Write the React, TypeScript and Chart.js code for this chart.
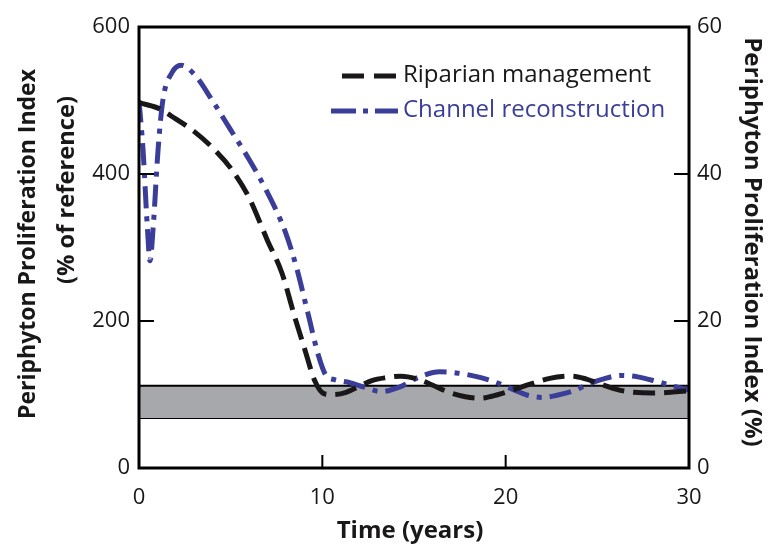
import React, { useEffect, useRef } from 'react';
import { Chart, registerables } from 'chart.js';

Chart.register(...registerables);

// ---- data ----
const riparianTime = [0, 1, 2, 3, 4, 5, 6, 7, 7.8, 8.5, 9, 9.6, 10.1, 10.6, 11.3, 12, 12.7, 13.5, 14.3, 15.2, 16, 16.8, 17.8, 18.6, 19.6, 20.4, 21.2, 22.4, 23.6, 24.4, 25.2, 26.2, 27, 28, 29, 30];
const riparianValue = [497, 490, 475, 458, 436, 408, 368, 310, 265, 205, 165, 118, 101, 100, 103, 111, 119, 123, 125, 121, 113, 104, 97, 95, 100, 106, 113, 122, 125, 121, 114, 106, 103, 102, 103, 105];

const channelTime = [0, 0.22, 0.45, 0.6, 0.78, 1.04, 1.3, 1.8, 2.3, 3, 4, 5, 6, 7, 8, 8.6, 9.2, 9.8, 10.2, 10.7, 11.5, 12.3, 13.2, 14.2, 15.3, 16.4, 17.4, 18.3, 19.3, 20.3, 21.2, 22, 22.8, 23.7, 24.5, 25.3, 26.3, 27.2, 28.2, 29.2, 30];
const channelValue = [500, 433, 330, 282, 330, 433, 500, 538, 548, 536, 500, 460, 420, 375, 320, 272, 212, 152, 126, 120, 116, 110, 104, 110, 124, 131, 129, 125, 118, 108, 99, 96, 99, 105, 114, 121, 126, 124, 118, 111, 106];

const referenceBand = [68, 112]; // lower, upper (% of reference)
const bandTime = [0, 30];

const xTicks = [0, 10, 20, 30];
const leftTicks = [0, 200, 400, 600];
const rightTicks = [0, 20, 40, 60];

const seriesLabels = ['Riparian management', 'Channel reconstruction'];

const BLACK = '#1a1718';
const BLUE = '#3a3e98';
const GRAY = '#a7a8ac';
const FONT = '"Open Sans", "Noto Sans", sans-serif';

function pts(t: number[], v: number[]) {
  return t.map((x, i) => ({ x, y: v[i] }));
}

const decorPlugin = {
  id: 'decor',
  afterDraw(chart: any) {
    const { ctx, chartArea: a, scales } = chart;
    ctx.save();
    // inward tick marks
    ctx.strokeStyle = '#000';
    ctx.lineWidth = 2;
    const tl = 15;
    leftTicks.slice(1, -1).forEach((v) => {
      const y = scales.y.getPixelForValue(v);
      ctx.beginPath(); ctx.moveTo(a.left, y); ctx.lineTo(a.left + tl, y); ctx.stroke();
    });
    rightTicks.slice(1, -1).forEach((v) => {
      const y = scales.y2.getPixelForValue(v);
      ctx.beginPath(); ctx.moveTo(a.right, y); ctx.lineTo(a.right - tl, y); ctx.stroke();
    });
    xTicks.slice(1, -1).forEach((v) => {
      const x = scales.x.getPixelForValue(v);
      ctx.beginPath(); ctx.moveTo(x, a.bottom); ctx.lineTo(x, a.bottom - 13); ctx.stroke();
    });
    // frame
    ctx.lineWidth = 3;
    ctx.strokeRect(a.left, a.top, a.right - a.left, a.bottom - a.top);

    // axis titles
    ctx.fillStyle = BLACK;
    ctx.textAlign = 'center';
    ctx.textBaseline = 'middle';
    ctx.font = `bold 24px ${FONT}`;
    ctx.save();
    ctx.translate(28, 244);
    ctx.rotate(-Math.PI / 2);
    ctx.fillText('Periphyton Proliferation Index', 0, 0, 350);
    ctx.restore();
    ctx.save();
    ctx.translate(67, 190);
    ctx.rotate(-Math.PI / 2);
    ctx.fillText('(% of reference)', 0, 0, 188);
    ctx.restore();
    ctx.save();
    ctx.translate(752, 242);
    ctx.rotate(Math.PI / 2);
    ctx.fillText('Periphyton Proliferation Index (%)', 0, 0, 425);
    ctx.restore();
    ctx.fillText('Time (years)', 410, 531, 152);

    // legend
    const ds = chart.data.datasets;
    const rows = [
      { y: 76, x0: 342, pattern: [22, 10], ds: ds[0] },
      { y: 111, x0: 331, pattern: [25, 7, 5, 7], ds: ds[1] },
    ];
    rows.forEach((r) => {
      ctx.save();
      ctx.strokeStyle = r.ds.borderColor;
      ctx.lineWidth = 5;
      ctx.setLineDash(r.pattern);
      ctx.beginPath(); ctx.moveTo(r.x0, r.y); ctx.lineTo(398, r.y); ctx.stroke();
      ctx.restore();
      ctx.font = `24px ${FONT}`;
      ctx.fillStyle = r.ds.borderColor;
      ctx.textAlign = 'left';
      ctx.textBaseline = 'middle';
      ctx.fillText(r.ds.label, 403, r.y - 1);
    });
    ctx.restore();
  },
};

export default function App() {
  const ref = useRef<HTMLCanvasElement | null>(null);
  useEffect(() => {
    document.body.style.margin = '0';
    if (!ref.current) return;
    const tickFont = { family: FONT, size: 22 };
    const chart = new Chart(ref.current, {
      type: 'line',
      data: {
        datasets: [
          {
            label: seriesLabels[0],
            data: pts(riparianTime, riparianValue),
            borderColor: BLACK,
            borderWidth: 5,
            borderDash: [22, 9],
            pointRadius: 0,
            cubicInterpolationMode: 'monotone',
            fill: false,
            yAxisID: 'y',
          },
          {
            label: seriesLabels[1],
            data: pts(channelTime, channelValue),
            borderColor: BLUE,
            borderWidth: 5,
            borderDash: [22, 8, 5, 8],
            pointRadius: 0,
            cubicInterpolationMode: 'monotone',
            fill: false,
            yAxisID: 'y',
          },
          {
            label: 'band upper',
            data: bandTime.map((x) => ({ x, y: referenceBand[1] })),
            borderColor: '#000',
            borderWidth: 2,
            backgroundColor: GRAY,
            pointRadius: 0,
            fill: '+1',
            yAxisID: 'y',
          },
          {
            label: 'band lower',
            data: bandTime.map((x) => ({ x, y: referenceBand[0] })),
            borderColor: '#000',
            borderWidth: 2,
            pointRadius: 0,
            fill: false,
            yAxisID: 'y',
          },
        ],
      } as any,
      options: {
        responsive: false,
        animation: false,
        layout: { padding: { top: 27, left: 0, right: 0, bottom: 0 } },
        plugins: { legend: { display: false }, tooltip: { enabled: false } },
        scales: {
          x: {
            type: 'linear',
            min: 0,
            max: 30,
            position: 'bottom',
            grid: { display: false, drawTicks: false },
            border: { display: false },
            afterBuildTicks: (s: any) => { s.ticks = xTicks.map((v) => ({ value: v })); },
            ticks: { font: tickFont, color: BLACK, padding: 17 },
            afterFit: (s: any) => { s.height = 80; },
          },
          y: {
            type: 'linear',
            min: 0,
            max: 600,
            position: 'left',
            grid: { display: false, drawTicks: false },
            border: { display: false },
            afterBuildTicks: (s: any) => { s.ticks = leftTicks.map((v) => ({ value: v })); },
            ticks: { font: tickFont, color: BLACK, padding: 9 },
            afterFit: (s: any) => { s.width = 139; },
          },
          y2: {
            type: 'linear',
            min: 0,
            max: 60,
            position: 'right',
            grid: { display: false, drawTicks: false },
            border: { display: false },
            afterBuildTicks: (s: any) => { s.ticks = rightTicks.map((v) => ({ value: v })); },
            ticks: { font: tickFont, color: BLACK, padding: 8 },
            afterFit: (s: any) => { s.width = 89; },
          },
        },
      } as any,
      plugins: [decorPlugin],
    });
    return () => chart.destroy();
  }, []);
  return (
    <div style={{ width: 778, height: 548 }}>
      <canvas ref={ref} width={778} height={548} />
    </div>
  );
}
